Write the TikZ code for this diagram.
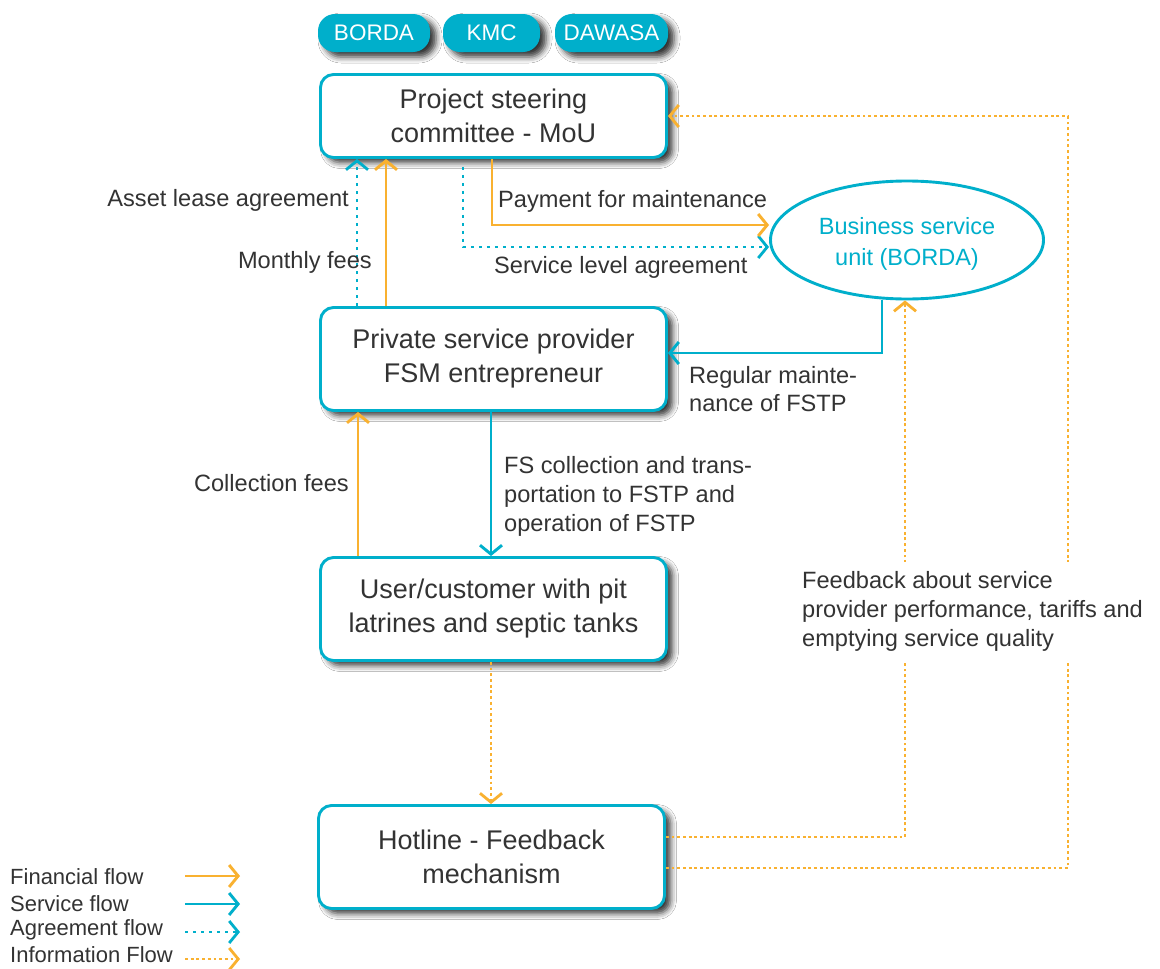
\documentclass[tikz,border=0pt]{standalone}
\usepackage{fontspec}
\setmainfont{Liberation Sans}
\usetikzlibrary{arrows.meta,shapes.geometric,shadows.blur,calc}
\definecolor{cteal}{HTML}{00AFCB}
\definecolor{corange}{HTML}{F9B130}
\definecolor{ctext}{HTML}{333333}
\begin{document}
\begin{tikzpicture}[x=1pt,y=-1pt,
  >={Straight Barb[length=9pt,width=22pt]},
  shad/.style={blur shadow={shadow xshift=6pt,shadow yshift=-5pt,shadow blur radius=6pt,shadow opacity=80}},
  box/.style={draw=cteal,line width=2.9pt,fill=white,rounded corners=13pt,minimum width=346pt,
    align=center,text=ctext,font=\fontsize{27}{34}\selectfont,shad},
  tag/.style={fill=cteal,rounded corners=17pt,minimum height=38pt,text=white,
    font=\fontsize{22.5}{27}\selectfont,shad},
  unit/.style={ellipse,draw=cteal,line width=2.9pt,fill=white,minimum width=273pt,minimum height=118pt,
    align=center,text=cteal,font=\fontsize{23.5}{31}\selectfont,inner sep=0pt},
  lab/.style={text=ctext,font=\fontsize{23.6}{29}\selectfont,inner sep=0pt},
  fin/.style={draw=corange,line width=2.9pt},
  svc/.style={draw=cteal,line width=2.9pt},
  agree/.style={draw=cteal,line width=2.8pt,dash pattern=on 2.8pt off 5.2pt},
  info/.style={draw=corange,line width=2.8pt,dash pattern=on 2.8pt off 2.9pt},
]
\fill[white] (0,0) rectangle (1160,969);
\useasboundingbox (0,0) rectangle (1160,969);

% lanes
\coordinate (xa) at (357,0);
\coordinate (xb) at (386,0);
\coordinate (xc) at (463,0);
\coordinate (xd) at (492,0);
\coordinate (xe) at (882,0);
\coordinate (xf) at (491,0);
\coordinate (xg) at (358,0);
\coordinate (xh) at (491,0);
\coordinate (xi) at (905,0);
\coordinate (xj) at (1068,0);

% tags
\node[tag,minimum width=112pt] (borda) at (374,33) {BORDA};
\node[tag,minimum width=97pt] (kmc) at (491.5,33) {KMC};
\node[tag,minimum width=113pt] (dawasa) at (611.5,33) {DAWASA};

% boxes
\node[box,minimum height=83pt] (psc) at (493.5,116) {Project steering\\committee - MoU};
\node[box,minimum height=103pt] (psp) at (493.5,359) {Private service provider\\FSM entrepreneur};
\node[box,minimum height=103pt] (user) at (493.5,609) {User/customer with pit\\latrines and septic tanks};
\node[box,minimum height=103pt] (hot) at (491.5,857) {Hotline - Feedback\\mechanism};
\node[unit] (bsu) at (907,240) {\raisebox{-4pt}[0pt][0pt]{\begin{tabular}{@{}c@{}}Business service\\unit (BORDA)\end{tabular}}\vphantom{\begin{tabular}{@{}c@{}}Business service\\unit (BORDA)\end{tabular}}};

% connectors
\draw[agree,->] (psp.north -| xa) -- (psc.south -| xa);
\draw[fin,->] (psp.north -| xb) -- (psc.south -| xb);
\draw[agree,->] (psc.south -| xc) ++(0,8) |- ([yshift=-7pt]bsu.west);
\draw[fin,->] (psc.south -| xd) |- ([yshift=15pt]bsu.west);
\draw[svc,->] (bsu.south -| xe) |- ([yshift=6pt]psp.east);
\draw[svc,->] (psp.south -| xf) -- (user.north -| xf);
\draw[fin,->] (user.north -| xg) -- (psp.south -| xg);
\draw[info,->] (user.south -| xh) -- (hot.north -| xh);
\draw[info,->] ([yshift=20pt]hot.east) -| (bsu.south -| xi);
\draw[info,->] ([yshift=-11pt]hot.east) -| (xj |- psc.east) -- (psc.east);

% labels
\node[lab,anchor=east] (l1) at (349,200) {Asset lease agreement};
\node[lab,anchor=east] (l2) at (372,262) {Monthly fees};
\node[lab,anchor=west] (l3) at (498,201) {Payment for maintenance};
\node[lab,anchor=west] (l4) at (494,267) {Service level agreement};
\node[lab,anchor=west,align=left,font=\fontsize{23.6}{28}\selectfont] (l5) at (689,389) {Regular mainte-\\nance of FSTP};
\node[lab,anchor=west,align=left] (l6) at (504,496) {FS collection and trans-\\portation to FSTP and\\operation of FSTP};
\node[lab,anchor=east] (l7) at (349,483) {Collection fees};
\node[lab,anchor=west,align=left,fill=white,inner xsep=2pt,inner ysep=9pt] (l8) at (800,611) {Feedback about service\\provider performance, tariffs and\\emptying service quality};

% legend
\node[lab,anchor=west,font=\fontsize{22}{26}\selectfont] (g1) at (10,877) {Financial flow};
\node[lab,anchor=west,font=\fontsize{22}{26}\selectfont] (g2) at (10,904) {Service flow};
\node[lab,anchor=west,font=\fontsize{22}{26}\selectfont] (g3) at (10,930) {Agreement flow};
\node[lab,anchor=west,font=\fontsize{22}{26}\selectfont] (g4) at (10,955) {Information Flow};
\coordinate (a1) at (185,876); \coordinate (b1) at (240,876);
\coordinate (a2) at (185,904); \coordinate (b2) at (240,904);
\coordinate (a3) at (185,932); \coordinate (b3) at (240,932);
\coordinate (a4) at (185,959); \coordinate (b4) at (240,959);
\draw[fin,->] (a1) -- (b1);
\draw[svc,->] (a2) -- (b2);
\draw[agree,->] (a3) -- (b3);
\draw[info,->] (a4) -- (b4);
\end{tikzpicture}
\end{document}
